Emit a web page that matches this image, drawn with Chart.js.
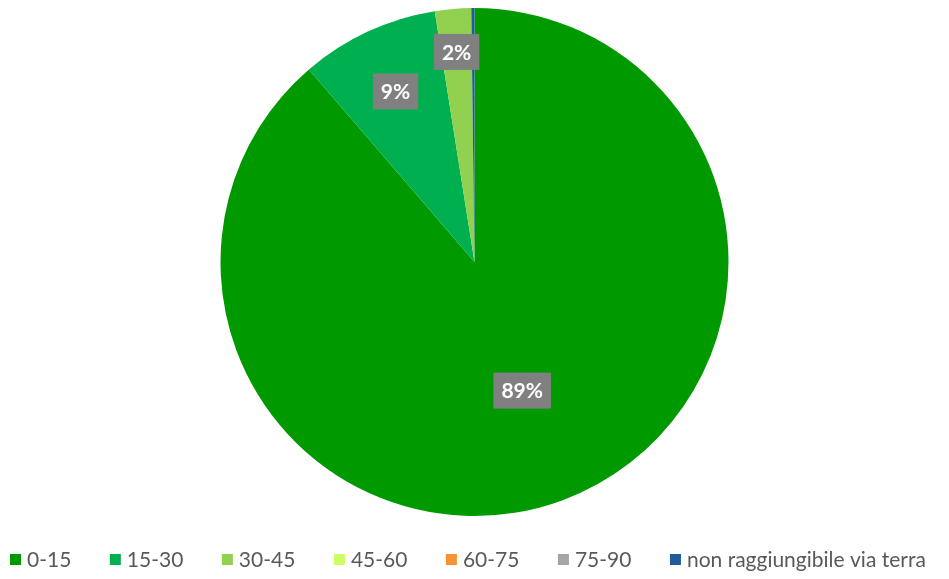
<!DOCTYPE html>
<html>
<head>
<meta charset="utf-8">
<script src="https://cdn.jsdelivr.net/npm/chart.js@4"></script>
<style>
  html, body { margin: 0; padding: 0; background: #ffffff; }
  #wrap { width: 949px; height: 579px; }
</style>
</head>
<body>
<div id="wrap"><canvas id="pieChart" width="949" height="579"></canvas></div>
<script>
var categories = ["0-15", "15-30", "30-45", "45-60", "60-75", "75-90", "non raggiungibile via terra"];
var shares = [88.7, 8.8, 2.3, 0, 0, 0, 0.2];
var sliceColors = ["#009A00", "#00B050", "#92D050", "#CCFF66", "#F79232", "#A5A5A5", "#1F5C99"];

// label distance from centre, as a fraction of the radius (Excel "best fit")
var labelRadius = [0.54, 0.74, 0.83];

var pieLabels = {
  id: 'pieLabels',
  afterDatasetsDraw: function (chart) {
    var ctx = chart.ctx;
    var arcs = chart.getDatasetMeta(0).data;
    var total = shares.reduce(function (a, b) { return a + b; }, 0);
    ctx.save();
    ctx.font = 'bold 21px Lato';
    ctx.textAlign = 'center';
    ctx.textBaseline = 'middle';
    arcs.forEach(function (arc, i) {
      var pct = Math.round(shares[i] / total * 100);
      if (pct < 1) return;
      var p = arc.getProps(['x', 'y', 'startAngle', 'endAngle', 'outerRadius'], true);
      var mid = (p.startAngle + p.endAngle) / 2;
      var r = p.outerRadius * (labelRadius[i] || 0.6);
      var x = p.x + Math.cos(mid) * r;
      var y = p.y + Math.sin(mid) * r;
      var text = pct + '%';
      var w = ctx.measureText(text).width + 16;
      var h = 36;
      ctx.fillStyle = '#808080';
      ctx.fillRect(x - w / 2, y - h / 2, w, h);
      ctx.fillStyle = '#ffffff';
      ctx.fillText(text, x, y + 1);
    });
    ctx.restore();
  }
};

// legend drawn by hand so that it stays on one row like the Excel one
var bottomLegend = {
  id: 'bottomLegend',
  afterDraw: function (chart) {
    var ctx = chart.ctx;
    var y = 560;
    var x = 10;
    ctx.save();
    ctx.font = '21px Lato';
    ctx.textBaseline = 'middle';
    ctx.textAlign = 'left';
    categories.forEach(function (name, i) {
      ctx.fillStyle = sliceColors[i];
      ctx.fillRect(x, y - 6, 11, 11);
      ctx.fillStyle = '#595959';
      ctx.fillText(name, x + 17, y);
      x += 17 + ctx.measureText(name).width + 38.5;
    });
    ctx.restore();
  }
};

var pieChart = new Chart(document.querySelector('#pieChart'), {
  type: 'pie',
  data: {
    labels: categories,
    datasets: [{
      data: shares,
      backgroundColor: sliceColors,
      borderWidth: 0,
      hoverOffset: 0
    }]
  },
  options: {
    responsive: false,
    animation: false,
    layout: { padding: { top: 8, bottom: 63 } },
    plugins: {
      tooltip: { enabled: false },
      legend: { display: false }
    }
  },
  plugins: [pieLabels, bottomLegend]
});
</script>
</body>
</html>
